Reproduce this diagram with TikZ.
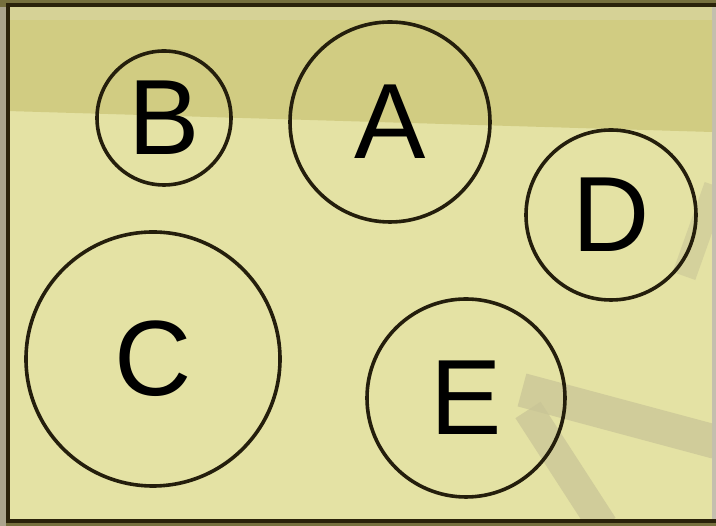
\documentclass[tikz,border=0pt]{standalone}
\usepackage{fontspec}
\setmainfont{Liberation Sans}
\usepackage{tikz}
\usetikzlibrary{positioning}
\usepackage{xcolor}

\definecolor{rimolive}{RGB}{118,112,62}
\definecolor{rimgrey}{RGB}{170,164,140}
\definecolor{framedark}{RGB}{42,34,10}
\definecolor{paleyellow}{RGB}{228,226,164}
\definecolor{bandolive}{RGB}{209,204,130}
\definecolor{bandlight}{RGB}{214,210,150}
\definecolor{shadowgrey}{RGB}{200,196,150}
\definecolor{setline}{RGB}{36,30,12}

\begin{document}
\begin{tikzpicture}[x=1pt, y=1pt,
    set/.style={circle, draw=setline, line width=3.6pt, inner sep=0pt,
        font=\fontsize{107}{107}\selectfont},
    shadow/.style={shadowgrey, line width=34pt, opacity=0.7}]
    \useasboundingbox (0,0) rectangle (716,526);

    % rim round the frame
    \fill[rimolive] (0,0) rectangle (716,526);
    \fill[rimgrey] (0,0) rectangle (6,519);
    \fill[rimgrey!70!white] (708,7) rectangle (716,522);

    % background: pale field with darker band on top
    \fill[paleyellow] (7,5) rectangle (712,520);
    \fill[bandolive] (7,506) -- (712,506) -- (712,394) -- (7,415) -- cycle;
    \fill[bandlight] (7,506) rectangle (712,520);

    % grey shadows behind the sets
    \begin{scope}
        \clip (7,5) rectangle (712,520);
        \draw[shadow] (522,136) -- (716,84);
        \draw[shadow, line width=30pt] (528,116) -- (603,0);
        \draw[shadow, line width=24pt, opacity=0.55] (684,250) -- (716,340);
    \end{scope}

    % frame
    \draw[framedark, line width=4pt] (716,520.5) -- (7.5,520.5) -- (7.5,4.5) -- (716,4.5);

    % sets
    \node[set, minimum size=134pt] (setB) at (164,408) {B};
    \node[set, minimum size=200pt] (setA) at (390,404) {A};
    \node[set, minimum size=170pt] (setD) at (611,311) {D};
    \node[set, minimum size=254pt] (setC) at (153,167) {C};
    \node[set, minimum size=198pt] (setE) at (466,128) {E};
\end{tikzpicture}
\end{document}
